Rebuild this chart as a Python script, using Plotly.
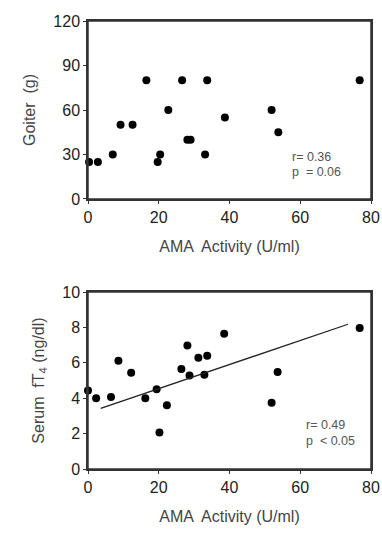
import plotly.graph_objects as go

# Top panel: Goiter vs AMA activity
goiter_x = [0.3, 2.8, 7.0, 9.2, 12.6, 16.5, 19.7, 20.4, 22.7, 26.6, 28.1, 29.0, 33.1, 33.7, 38.7, 51.9, 53.8, 76.8]
goiter_y = [25, 25, 30, 50, 50, 80, 25, 30, 60, 80, 40, 40, 30, 80, 55, 60, 45, 80]

# Bottom panel: Serum fT4 vs AMA activity
ft4_x = [0.0, 2.3, 6.5, 8.6, 12.2, 16.2, 19.4, 20.2, 22.3, 26.4, 28.1, 28.7, 31.2, 32.9, 33.7, 38.5, 51.9, 53.6, 76.8]
ft4_y = [4.43, 4.0, 4.07, 6.12, 5.44, 4.0, 4.5, 2.06, 3.6, 5.65, 6.98, 5.29, 6.29, 5.33, 6.4, 7.65, 3.75, 5.48, 7.97]

# Regression line endpoints
fit_x = [3.6, 73.5]
fit_y = [3.43, 8.18]

x_ticks = [0, 20, 40, 60, 80]
goiter_ticks = [0, 30, 60, 90, 120]
ft4_ticks = [0, 2, 4, 6, 8, 10]

fig = go.Figure()
fig.add_trace(go.Scatter(x=goiter_x, y=goiter_y, mode="markers",
                         marker=dict(color="black", size=8), cliponaxis=False,
                         xaxis="x", yaxis="y", showlegend=False))
fig.add_trace(go.Scatter(x=ft4_x, y=ft4_y, mode="markers",
                         marker=dict(color="black", size=8), cliponaxis=False,
                         xaxis="x2", yaxis="y2", showlegend=False))
fig.add_trace(go.Scatter(x=fit_x, y=fit_y, mode="lines",
                         line=dict(color="#222", width=1.3),
                         xaxis="x2", yaxis="y2", showlegend=False))

axis_common = dict(showgrid=False, zeroline=False, showline=True, linecolor="#333",
                   linewidth=1.5, mirror=True, ticks="outside", ticklen=3,
                   tickcolor="#333", automargin=False,
                   tickfont=dict(size=16, color="#222"))

title_font = dict(size=16, color="#444")
font = "Liberation Sans, Arial, sans-serif"
fig.update_layout(
    width=382, height=534,
    margin=dict(l=88, r=11, t=21, b=65),
    paper_bgcolor="white", plot_bgcolor="white",
    font=dict(family=font, color="#333"),
    xaxis=dict(domain=[0, 1], anchor="y", range=[0, 80], tickvals=x_ticks,
               title=dict(text="AMA  Activity (U/ml)", font=title_font, standoff=16),
               **axis_common),
    yaxis=dict(domain=[0.6027, 1], anchor="x", range=[0, 120], tickvals=goiter_ticks,
               title=dict(text="Goiter  (g)", font=title_font, standoff=14),
               **axis_common),
    xaxis2=dict(domain=[0, 1], anchor="y2", range=[0, 80], tickvals=x_ticks,
                title=dict(text="AMA  Activity (U/ml)", font=title_font, standoff=16),
                **axis_common),
    yaxis2=dict(domain=[0, 0.395], anchor="x2", range=[0, 10], tickvals=ft4_ticks,
                title=dict(text="Serum  fT<sub>4</sub> (ng/dl)", font=title_font, standoff=14),
                **axis_common),
    shapes=[
        dict(type="rect", xref="x domain", yref="y domain", x0=0, x1=1, y0=0, y1=1,
             line=dict(color="#333", width=1.5), layer="above"),
        dict(type="rect", xref="x2 domain", yref="y2 domain", x0=0, x1=1, y0=0, y1=1,
             line=dict(color="#333", width=1.5), layer="above"),
    ],
    annotations=[
        dict(x=57, y=28.3, xref="x", yref="y", text="r= 0.36", showarrow=False,
             xanchor="left", font=dict(size=12.5, color="#555")),
        dict(x=57, y=18.2, xref="x", yref="y", text="p  = 0.06", showarrow=False,
             xanchor="left", font=dict(size=12.5, color="#555")),
        dict(x=61, y=2.49, xref="x2", yref="y2", text="r= 0.49", showarrow=False,
             xanchor="left", font=dict(size=12.5, color="#555")),
        dict(x=61, y=1.58, xref="x2", yref="y2", text="p  < 0.05", showarrow=False,
             xanchor="left", font=dict(size=12.5, color="#555")),
    ],
)

fig.write_html(
    "out.html",
    config={"displayModeBar": False},
    post_script="document.body.style.margin='0';document.body.style.overflow='hidden';",
)
